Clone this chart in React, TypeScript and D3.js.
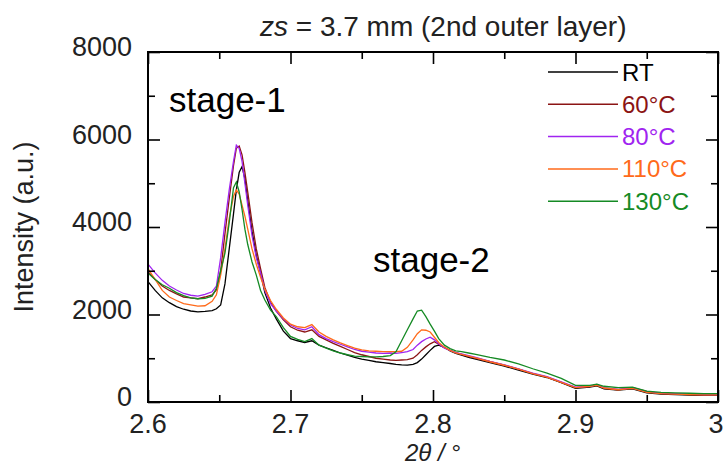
import React, { useEffect, useRef } from 'react';
import * as d3 from 'd3';

// 2θ positions (deg) shared by all curves
const twoTheta = [
  2.600, 2.605, 2.610, 2.615, 2.620, 2.625, 2.630, 2.635, 2.640, 2.645,
  2.648, 2.651, 2.654, 2.657, 2.660, 2.662, 2.664, 2.666, 2.668, 2.670,
  2.673, 2.676, 2.679, 2.682, 2.686, 2.690, 2.695, 2.700, 2.705, 2.710,
  2.715, 2.720, 2.725, 2.730, 2.735, 2.740, 2.745, 2.750, 2.755, 2.760,
  2.765, 2.770, 2.774, 2.778, 2.782, 2.786, 2.789, 2.792, 2.795, 2.798,
  2.801, 2.804, 2.808, 2.812, 2.816, 2.820, 2.825, 2.830, 2.840, 2.850,
  2.860, 2.870, 2.880, 2.890, 2.900, 2.910, 2.915, 2.920, 2.930, 2.940,
  2.950, 2.960, 2.970, 2.980, 2.990, 3.000,
];

const rtValues = [
  2750, 2550, 2380, 2270, 2180, 2120, 2080, 2060, 2070, 2090,
  2130, 2220, 2700, 3500, 4300, 4850, 5250, 5380, 5100, 4600,
  3900, 3350, 2950, 2500, 2150, 1900, 1620, 1450, 1400, 1360,
  1400, 1300, 1240, 1180, 1120, 1070, 1020, 980, 950, 920,
  900, 880, 860, 850, 845, 860, 900, 980, 1080, 1180,
  1270, 1300, 1250, 1170, 1110, 1070, 1020, 980, 900, 820,
  730, 640, 560, 440, 310, 340, 370, 300, 270, 300,
  210, 180, 170, 160, 150, 150,
];

const c60Values = [
  2980, 2800, 2650, 2550, 2470, 2400, 2380, 2360, 2400, 2450,
  2560, 3000, 3850, 4650, 5400, 5800, 5850, 5650, 5250, 4800,
  4100, 3500, 3050, 2620, 2280, 2080, 1880, 1720, 1640, 1600,
  1650, 1500, 1420, 1340, 1270, 1200, 1130, 1080, 1040, 1000,
  980, 960, 950, 960, 970, 1000, 1080, 1180, 1260, 1330,
  1380, 1320, 1240, 1180, 1130, 1090, 1040, 1000, 920, 840,
  750, 650, 570, 450, 330, 350, 400, 310, 280, 330,
  240, 190, 180, 170, 160, 160,
];

const c80Values = [
  3150, 2950, 2780, 2650, 2560, 2480, 2440, 2420, 2460, 2520,
  2650, 3300, 4100, 4850, 5500, 5870, 5800, 5500, 5000, 4500,
  3800, 3300, 2950, 2550, 2250, 2080, 1900, 1760, 1680, 1650,
  1720, 1540, 1450, 1380, 1320, 1260, 1200, 1160, 1140, 1120,
  1110, 1120, 1110, 1130, 1150, 1200, 1300, 1380, 1440, 1480,
  1420, 1330, 1230, 1180, 1130, 1100, 1060, 1020, 930, 850,
  760, 660, 580, 460, 340, 360, 390, 330, 290, 320,
  230, 200, 190, 180, 170, 170,
];

const c110Values = [
  3050, 2800, 2550, 2400, 2320, 2250, 2220, 2190, 2200, 2300,
  2450, 2900, 3500, 4200, 4700, 4850, 4750, 4500, 4250, 3950,
  3500, 3150, 2850, 2580, 2320, 2120, 1920, 1780, 1720, 1700,
  1770, 1600, 1500, 1420, 1350, 1290, 1230, 1190, 1170, 1160,
  1150, 1150, 1150, 1160, 1250, 1420, 1560, 1650, 1640, 1600,
  1480, 1360, 1250, 1180, 1120, 1090, 1050, 1010, 920, 840,
  750, 650, 570, 450, 330, 360, 380, 320, 280, 310,
  220, 190, 180, 170, 165, 165,
];

const c130Values = [
  2950, 2800, 2680, 2600, 2500, 2430, 2380, 2360, 2370, 2420,
  2600, 3000, 3400, 4100, 4900, 5030, 4800, 4400, 3950, 3600,
  3200, 2900, 2550, 2330, 2100, 1950, 1700, 1500, 1430, 1380,
  1450, 1300, 1230, 1170, 1120, 1080, 1050, 1040, 1030, 1030,
  1040, 1060, 1150, 1400, 1650, 1900, 2080, 2100, 1950, 1780,
  1620, 1450, 1300, 1220, 1170, 1150, 1120, 1090, 1020, 960,
  870, 760, 660, 540, 380, 380, 410, 360, 330, 340,
  250, 220, 210, 200, 190, 190,
];

const seriesNames = ['RT', '60°C', '80°C', '110°C', '130°C'];
const seriesColors = ['#000000', '#8b1414', '#a024f0', '#ff6a1a', '#158a24'];
const seriesValues = [rtValues, c60Values, c80Values, c110Values, c130Values];

const xTicks = [2.6, 2.7, 2.8, 2.9, 3.0];
const xTickLabels = ['2.6', '2.7', '2.8', '2.9', '3'];
const xMinorTicks = [2.65, 2.75, 2.85, 2.95];
const yTicks = [0, 2000, 4000, 6000, 8000];
const yMinorTicks = [1000, 3000, 5000, 7000];

const W = 725;
const H = 466;
const FONT = '"Liberation Sans", Arial, sans-serif';

function App() {
  const svgRef = useRef<SVGSVGElement>(null);

  useEffect(() => {
    document.body.style.margin = '0';
    const svg = d3.select(svgRef.current);
    svg.selectAll('*').remove();

    const x = d3.scaleLinear().domain([2.6, 3.0]).range([148, 718]);
    const y = d3.scaleLinear().domain([0, 8000]).range([402, 52]);
    const [x0, x1] = x.range();
    const [y0, y1] = y.range();

    // curves
    const line = d3.line<number>()
      .x((d, i) => x(twoTheta[i]))
      .y(d => y(d));

    seriesValues.forEach((vals, i) => {
      svg.append('path')
        .attr('d', line(vals))
        .attr('fill', 'none')
        .attr('stroke', seriesColors[i])
        .attr('stroke-width', 1.3)
        .attr('stroke-linejoin', 'miter');
    });

    // inward ticks on all four sides
    const tickStyle = (g) => {
      g.select('.domain').remove();
      g.selectAll('line').attr('stroke', '#000').attr('stroke-width', 1.6);
      g.selectAll('text').remove();
    };
    const addAxis = (axis, tx, ty) => {
      svg.append('g').attr('transform', `translate(${tx},${ty})`).call(axis).call(tickStyle);
    };
    addAxis(d3.axisBottom(x).tickValues(xTicks).tickSize(-12), 0, y0);
    addAxis(d3.axisBottom(x).tickValues(xMinorTicks).tickSize(-7), 0, y0);
    addAxis(d3.axisTop(x).tickValues(xTicks).tickSize(-12), 0, y1);
    addAxis(d3.axisTop(x).tickValues(xMinorTicks).tickSize(-7), 0, y1);
    addAxis(d3.axisLeft(y).tickValues(yTicks).tickSize(-12), x0, 0);
    addAxis(d3.axisLeft(y).tickValues(yMinorTicks).tickSize(-7), x0, 0);
    addAxis(d3.axisRight(y).tickValues(yTicks).tickSize(-12), x1, 0);
    addAxis(d3.axisRight(y).tickValues(yMinorTicks).tickSize(-7), x1, 0);

    // frame
    svg.append('rect')
      .attr('x', x0).attr('y', y1)
      .attr('width', x1 - x0).attr('height', y0 - y1)
      .attr('fill', 'none').attr('stroke', '#000').attr('stroke-width', 2);

    // tick labels (last one nudged so it stays inside the window)
    svg.append('g').selectAll('text')
      .data(xTicks)
      .join('text')
      .attr('x', (d, i) => i === xTicks.length - 1 ? x(d) - 2 : x(d))
      .attr('y', y0 + 31)
      .attr('text-anchor', 'middle')
      .attr('font-family', FONT)
      .attr('font-size', 27)
      .attr('fill', '#222')
      .text((d, i) => xTickLabels[i]);

    svg.append('g').selectAll('text')
      .data(yTicks)
      .join('text')
      .attr('x', x0 - 16)
      .attr('y', d => y(d) + 4)
      .attr('text-anchor', 'end')
      .attr('font-family', FONT)
      .attr('font-size', 27)
      .attr('fill', '#222')
      .text(d => String(d));

    // axis titles
    svg.append('text')
      .attr('transform', `translate(33,${(y0 + y1) / 2}) rotate(-90)`)
      .attr('text-anchor', 'middle')
      .attr('font-family', FONT)
      .attr('font-size', 27)
      .attr('fill', '#222')
      .text('Intensity (a.u.)');

    const xl = svg.append('text')
      .attr('x', (x0 + x1) / 2)
      .attr('y', 461)
      .attr('text-anchor', 'middle')
      .attr('font-family', FONT)
      .attr('font-size', 24)
      .attr('fill', '#222');
    xl.append('tspan').attr('font-style', 'italic').text('2θ / ');
    xl.append('tspan').text('°');

    // title
    const title = svg.append('text')
      .attr('x', 260)
      .attr('y', 36)
      .attr('font-family', FONT)
      .attr('font-size', 28)
      .attr('fill', '#222');
    title.append('tspan').attr('font-style', 'italic').text('zs');
    title.append('tspan').text(' = 3.7 mm (2nd outer layer)');

    // annotations
    svg.append('text')
      .attr('x', 169).attr('y', 112)
      .attr('font-family', FONT).attr('font-size', 35).attr('fill', '#000')
      .text('stage-1');
    svg.append('text')
      .attr('x', 373).attr('y', 272)
      .attr('font-family', FONT).attr('font-size', 35).attr('fill', '#000')
      .text('stage-2');

    // legend
    const legend = svg.append('g').attr('transform', 'translate(548,72)');
    seriesNames.forEach((name, i) => {
      const row = legend.append('g').attr('transform', `translate(0,${i * 32.3})`);
      row.append('line')
        .attr('x1', 0).attr('x2', 70)
        .attr('stroke', seriesColors[i]).attr('stroke-width', 1.5);
      row.append('text')
        .attr('x', 74).attr('y', 8.5)
        .attr('font-family', FONT).attr('font-size', 24)
        .attr('fill', seriesColors[i])
        .text(name);
    });
  }, []);

  return <svg ref={svgRef} width={W} height={H} style={{ display: 'block', background: '#fff' }} />;
}

export default App;
